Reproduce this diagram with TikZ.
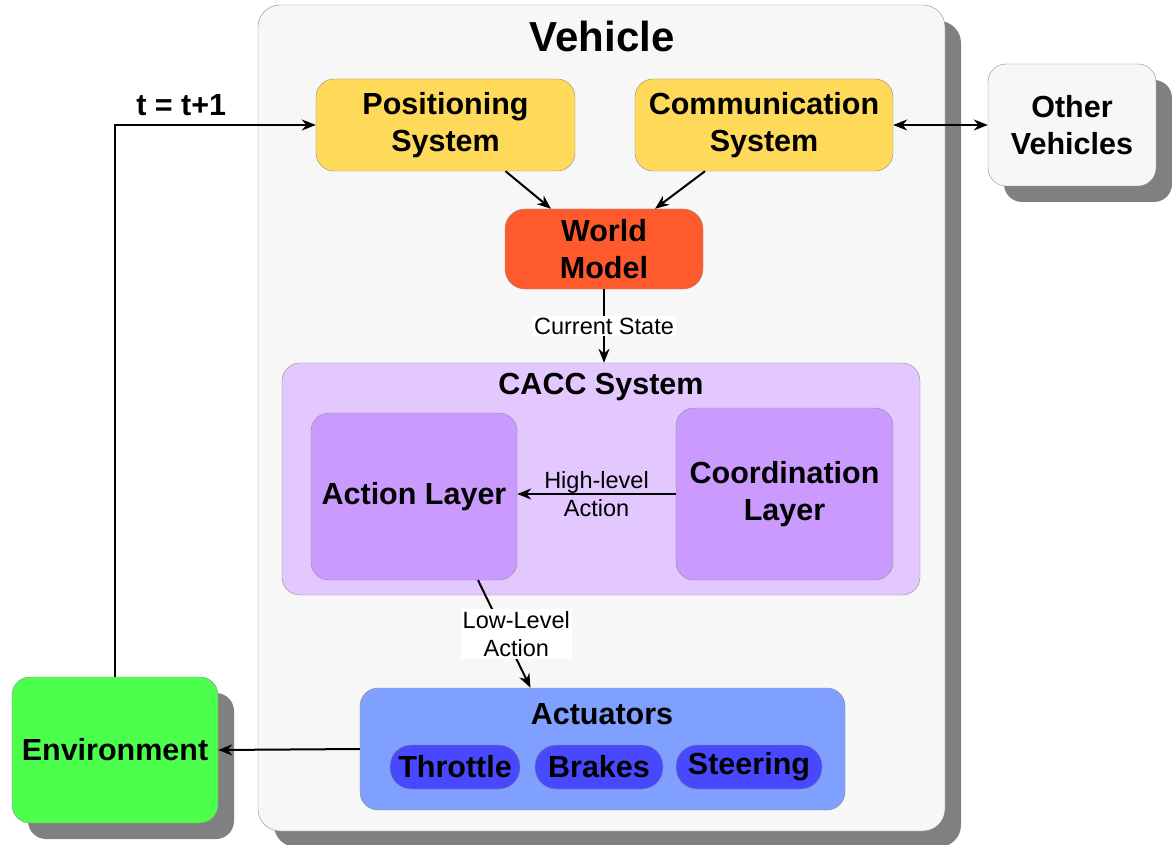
\documentclass[tikz,border=0pt]{standalone}
\usepackage{fontspec}
\setmainfont{Liberation Sans}
\usetikzlibrary{arrows.meta,shadows}
\definecolor{vehgray}{HTML}{F7F7F7}
\definecolor{bordergray}{HTML}{8C8C8C}
\definecolor{shadowgray}{HTML}{808080}
\definecolor{sensor}{HTML}{FFD95A}
\definecolor{worldred}{HTML}{FF5A2E}
\definecolor{caccbg}{HTML}{E2C8FF}
\definecolor{layer}{HTML}{CB9AFF}
\definecolor{actuator}{HTML}{80A0FF}
\definecolor{pill}{HTML}{4848FF}
\definecolor{envgreen}{HTML}{4DFF4D}

\begin{document}
\begin{tikzpicture}[x=1pt,y=-1pt,>={Stealth[length=14pt,width=11pt]}]
 \tikzstyle{block} = [draw=bordergray, rounded corners=18, align=center, inner sep=0, font=\bfseries\fontsize{30.5}{37}\selectfont]
 \tikzstyle{shadowed} = [drop shadow={shadow xshift=16pt, shadow yshift=-16pt, fill=shadowgray, opacity=1}]
 \tikzstyle{title} = [font=\bfseries\fontsize{30.5}{37}\selectfont, inner sep=0]
 \tikzstyle{lbl} = [font=\fontsize{23.5}{28}\selectfont, align=center, inner sep=2]
 \tikzstyle{conn} = [line width=2, ->]

 \useasboundingbox (0,0) rectangle (1172,845);

 % Vehicle
 \node[block, shadowed, fill=vehgray, rounded corners=22, minimum width=687, minimum height=826] (veh) at (601.5,418) {};
 \node[title, font=\bfseries\fontsize{42}{50}\selectfont] (vehtitle) at (602,36) {Vehicle};

 % Sensing
 \node[block, fill=sensor, minimum width=259, minimum height=92] (pos) at (445.5,125) {Positioning\\System};
 \node[block, fill=sensor, minimum width=258, minimum height=92] (com) at (764,125) {Communication\\System};
 \node[block, fill=worldred, rounded corners=20, minimum width=198, minimum height=80] (wm) at (604,249) {World\\Model};

 % Outside
 \node[block, shadowed, fill=vehgray, minimum width=168, minimum height=122] (oth) at (1072,125) {Other\\Vehicles};
 \node[block, shadowed, fill=envgreen, minimum width=206, minimum height=146] (env) at (115,750) {Environment};

 % CACC
 \node[block, fill=caccbg, minimum width=638, minimum height=232] (cacc) at (601,479) {};
 \node[title] (cacctitle) at (601,387) {CACC System};
 \node[block, fill=layer, minimum width=206, minimum height=167] (act) at (414,496.5) {Action Layer};
 \node[block, fill=layer, minimum width=217, minimum height=172] (coo) at (784.5,494) {Coordination\\Layer};

 % Actuators
 \node[block, fill=actuator, minimum width=485, minimum height=122] (actu) at (602.5,749) {};
 \node[title] (actutitle) at (602,714) {Actuators};
 \node[block, fill=pill, rounded corners=21, minimum width=130, minimum height=44] (thr) at (455,767) {Throttle};
 \node[block, fill=pill, rounded corners=21, minimum width=128, minimum height=44] (brk) at (599,767) {Brakes};
 \node[block, fill=pill, rounded corners=21, minimum width=146, minimum height=44] (ste) at (749,767) {Steering};

 % Connectors
 \draw[conn] (env.north) |- (pos.west) node[pos=0.665, above=8pt, title] {t = t+1};
 \draw[conn] ([xshift=60]pos.south) -- ([xshift=-53]wm.north);
 \draw[conn] ([xshift=-59]com.south) -- ([xshift=51]wm.north);
 \draw[conn,<->] (com.east) -- (oth.west);
 \draw[conn] (wm.south) -- (wm.south |- cacc.north) node[midway, lbl, fill=white] {Current State};
 \draw[conn] (coo.west) -- (coo.west -| act.east) node[midway, lbl] {High-level\\Action};
 \draw[conn] ([xshift=64]act.south) -- ([xshift=-72]actu.north) node[midway, lbl, fill=white, xshift=12] {Low-Level\\Action};
 \draw[conn] (actu.west) -- (env.east);

\end{tikzpicture}
\end{document}
